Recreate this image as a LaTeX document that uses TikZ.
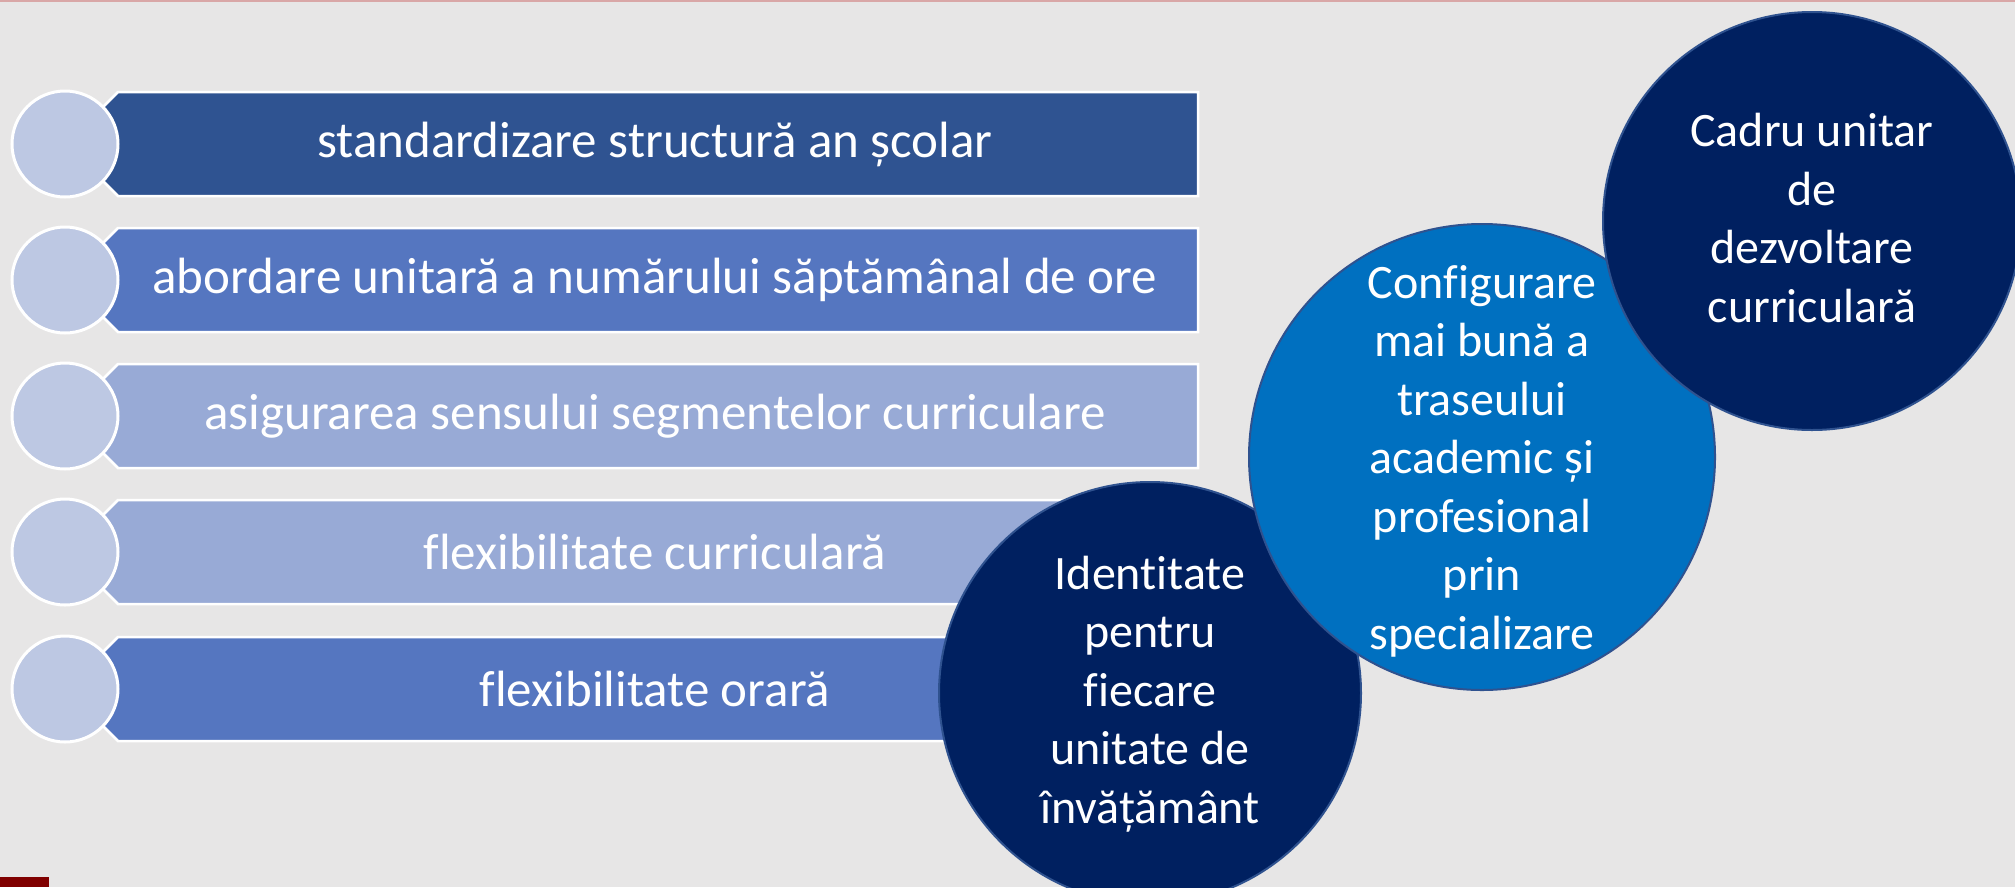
\documentclass[tikz,border=0pt]{standalone}
\usepackage{fontspec}
\setmainfont{Carlito}[Ligatures=NoCommon]
\definecolor{bg}{HTML}{E7E6E6}
\definecolor{topline}{HTML}{D9A7A7}
\definecolor{darkred}{HTML}{800000}
\definecolor{barA}{HTML}{2F5391}
\definecolor{barB}{HTML}{5576C0}
\definecolor{barC}{HTML}{98AAD6}
\definecolor{smallfill}{HTML}{BDC8E3}
\definecolor{navy}{HTML}{002060}
\definecolor{midblue}{HTML}{0070C0}
\definecolor{ringcol}{HTML}{2F528F}
\begin{document}
\begin{tikzpicture}[x=1pt,y=-1pt,
  smallc/.style={circle,inner sep=0pt,minimum size=106pt,fill=smallfill,draw=white,line width=3pt},
  barbox/.style={draw=white,line width=2.5pt},
  bartext/.style={text=white,font=\fontsize{51}{60}\selectfont,inner sep=0pt},
  bigc/.style={circle,inner sep=0pt,draw=ringcol,line width=2pt},
  bigtext/.style={text=white,align=center,font=\fontsize{48}{58.5}\selectfont,inner sep=0pt}]
\useasboundingbox (0,0) rectangle (2015,887);
\clip (0,0) rectangle (2015,887);
\fill[bg] (0,0) rectangle (2015,887);
\fill[topline] (0,0) rectangle (2015,2);
\fill[darkred] (0,877) rectangle (49,887);
% bars
\foreach \y/\c in {144/barA,280/barB,416/barC,552/barC,689/barB}{
  \path[barbox,fill=\c] (118,\y-52) -- (1198,\y-52) -- (1198,\y+52) -- (118,\y+52)
     -- (90,\y+24) -- (90,\y-24) -- cycle;
}
\node[bartext] (t1) at (655,144) {standardizare structură an școlar};
\node[bartext] (t2) at (655,280) {abordare unitară a numărului săptămânal de ore};
\node[bartext] (t3) at (655,416) {asigurarea sensului segmentelor curriculare};
\node[bartext] (t4) at (655,552) {flexibilitate curriculară};
\node[bartext] (t5) at (655,689) {flexibilitate orară};
% small circles
\node[smallc] (c1) at (65,144) {};
\node[smallc] (c2) at (65,280) {};
\node[smallc] (c3) at (65,416) {};
\node[smallc] (c4) at (65,552) {};
\node[smallc] (c5) at (65,689) {};
% big circles
\node[bigc,fill=navy,minimum size=422pt] (ident) at (1150,693) {};
\node[bigtext] (identT) at ([yshift=-1pt]ident.center) {Identitate\\pentru\\fiecare\\unitate de\\învățământ};
\node[bigc,fill=midblue,minimum size=466pt] (config) at (1482,457) {};
\node[bigtext] (configT) at ([yshift=-4pt]config.center) {Configurare\\mai bună a\\traseului\\academic și\\profesional\\prin\\specializare};
\node[bigc,fill=navy,minimum size=418pt] (cadru) at (1812,221) {};
\node[bigtext] (cadruT) at ([yshift=3pt]cadru.center) {Cadru unitar\\de\\dezvoltare\\curriculară};
\end{tikzpicture}
\end{document}
